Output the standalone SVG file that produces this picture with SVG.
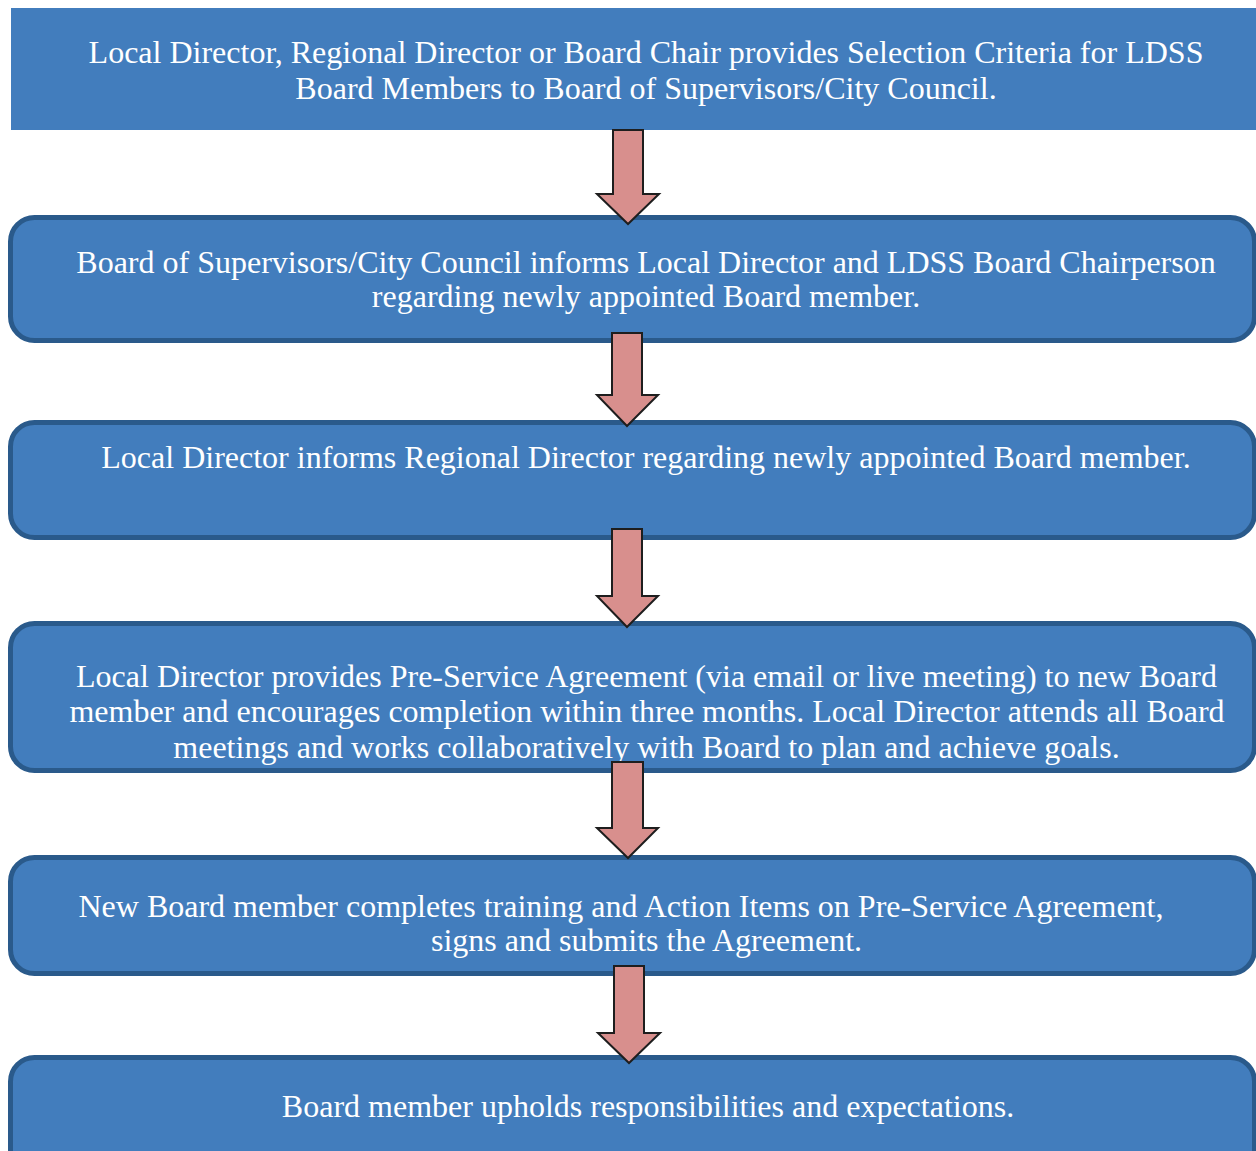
<svg xmlns="http://www.w3.org/2000/svg" width="1256" height="1151" viewBox="0 0 1256 1151">
<style>
.box{fill:#427DBD;stroke:#2A5A8B;stroke-width:5}
.top{fill:#427DBD}
.t{font-family:"Liberation Serif","Times New Roman",serif;font-size:32px;fill:#FFFFFF;text-anchor:middle}
.arr{fill:#D88F8D;stroke:#1E1E1E;stroke-width:2;stroke-linejoin:miter}
</style>
<rect width="1256" height="1151" fill="#FFFFFF"/>
<g id="node1">
<rect class="top" x="11" y="8" width="1250" height="122"/>
<text class="t" x="646" y="63">Local Director, Regional Director or Board Chair provides Selection Criteria for LDSS</text>
<text class="t" x="646" y="99">Board Members to Board of Supervisors/City Council.</text>
</g>
<g id="node2">
<rect class="box" x="10.5" y="217.5" width="1244" height="123" rx="24"/>
<text class="t" x="646" y="273">Board of Supervisors/City Council informs Local Director and LDSS Board Chairperson</text>
<text class="t" x="646" y="307">regarding newly appointed Board member.</text>
</g>
<g id="node3">
<rect class="box" x="10.5" y="422.5" width="1244" height="115" rx="24"/>
<text class="t" x="646" y="468">Local Director informs Regional Director regarding newly appointed Board member.</text>
</g>
<g id="node4">
<rect class="box" x="10.5" y="623.5" width="1244" height="147" rx="24"/>
<text class="t" x="646.5" y="687">Local Director provides Pre-Service Agreement (via email or live meeting) to new Board</text>
<text class="t" x="647" y="722">member and encourages completion within three months. Local Director attends all Board</text>
<text class="t" x="646.5" y="758">meetings and works collaboratively with Board to plan and achieve goals.</text>
</g>
<g id="node5">
<rect class="box" x="10.5" y="857.5" width="1244" height="116" rx="24"/>
<text class="t" x="621" y="917">New Board member completes training and Action Items on Pre-Service Agreement,</text>
<text class="t" x="646.5" y="951">signs and submits the Agreement.</text>
</g>
<g id="node6">
<rect class="box" x="10.5" y="1057.5" width="1244" height="125" rx="24"/>
<text class="t" x="648" y="1117">Board member upholds responsibilities and expectations.</text>
</g>
<g id="connectors">
<path class="arr" d="M613,130 L643,130 L643,194 L659,194 L628,224 L597,194 L613,194 Z"/>
<path class="arr" d="M612,333 L642,333 L642,395 L658,395 L627,426 L597,395 L612,395 Z"/>
<path class="arr" d="M612,529 L642,529 L642,596 L658,596 L627,627 L597,596 L612,596 Z"/>
<path class="arr" d="M612,762 L643,762 L643,828 L658,828 L628,858 L597,828 L612,828 Z"/>
<path class="arr" d="M614,966 L644,966 L644,1033 L660,1033 L629,1063 L598,1033 L614,1033 Z"/>
</g>
</svg>
